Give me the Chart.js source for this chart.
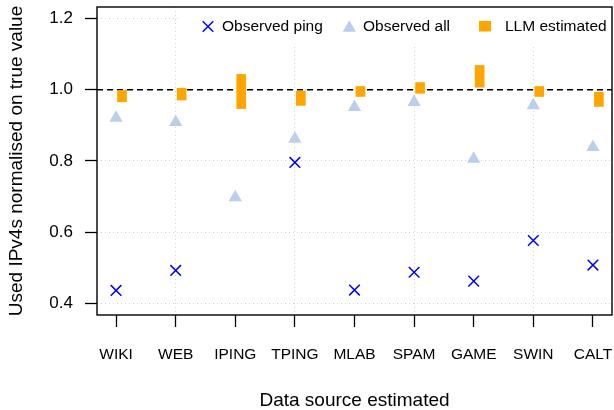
<!DOCTYPE html>
<html><head><meta charset="utf-8">
<script src="https://cdn.jsdelivr.net/npm/chart.js@4/dist/chart.umd.min.js"></script>
<style>html,body{margin:0;padding:0;background:#fff}canvas{display:block}</style>
</head><body>
<canvas id="c" width="614" height="410"></canvas>
<script>
// ---- data ----
const categories   = ['WIKI','WEB','IPING','TPING','MLAB','SPAM','GAME','SWIN','CALT'];
const observedPing = [0.437, 0.493, null, 0.796, 0.438, 0.488, 0.463, 0.577, 0.508];
const observedAll  = [0.921, 0.909, 0.698, 0.862, 0.951, 0.965, 0.806, 0.956, 0.839];
const llmLow       = [0.966, 0.971, 0.947, 0.956, 0.981, 0.990, 1.007, 0.981, 0.953];
const llmHigh      = [0.998, 1.004, 1.043, 0.996, 1.009, 1.020, 1.068, 1.009, 0.993];
const yTicks       = [0.4, 0.6, 0.8, 1.0, 1.2];
const referenceValue = 1.0;
const seriesLabels = ['Observed ping', 'Observed all', 'LLM estimated'];
const xTitle = 'Data source estimated';
const yTitle = 'Used IPv4s normalised on true value';

// ---- axis limits / styling ----
const X_MIN = -0.32, X_MAX = 8.32, Y_MIN = 0.368, Y_MAX = 1.232;
const LLM_SHIFT = 0.1;
const FONT = "'Liberation Sans', Arial, Helvetica, sans-serif";
const PING_COLOR = '#0000FF', ALL_COLOR = '#B9CFEC', LLM_COLOR = '#FFA500';

Chart.defaults.font.family = FONT;
Chart.defaults.color = '#000';

const frameAndLegend = {
  id: 'frameAndLegend',
  afterDraw(chart) {
    const {ctx, chartArea: a} = chart;
    ctx.save();
    // legend background (covers grid lines)
    const lx = 178, lb = 45;
    ctx.fillStyle = '#fff';
    ctx.fillRect(lx, a.top, a.right - lx, lb - a.top);
    const cy = 26.5;
    // item 1: cross
    ctx.strokeStyle = PING_COLOR; ctx.lineWidth = 1.5;
    const mx = 208, h = 5.3;
    ctx.beginPath();
    ctx.moveTo(mx - h, cy - h); ctx.lineTo(mx + h, cy + h);
    ctx.moveTo(mx - h, cy + h); ctx.lineTo(mx + h, cy - h);
    ctx.stroke();
    // item 2: triangle
    const tx = 349.3, r = 7.7, tcy = cy + 1.5;
    ctx.fillStyle = ALL_COLOR;
    ctx.beginPath();
    ctx.moveTo(tx, tcy - r);
    ctx.lineTo(tx + r * Math.sqrt(3) / 2, tcy + r / 2);
    ctx.lineTo(tx - r * Math.sqrt(3) / 2, tcy + r / 2);
    ctx.closePath(); ctx.fill();
    // item 3: square
    ctx.fillStyle = LLM_COLOR;
    ctx.fillRect(479, 21, 12, 10.5);
    // texts
    ctx.fillStyle = '#000';
    ctx.font = '15.5px ' + FONT;
    ctx.textBaseline = 'middle';
    ctx.textAlign = 'left';
    ctx.fillText(seriesLabels[0], 222, cy);
    ctx.fillText(seriesLabels[1], 363, cy);
    ctx.fillText(seriesLabels[2], 505, cy);
    // frame
    ctx.strokeStyle = '#000'; ctx.lineWidth = 1.4;
    ctx.strokeRect(a.left, a.top, a.right - a.left, a.bottom - a.top);
    ctx.restore();
  }
};

const pingData = categories.map((c, i) => ({x: i, y: observedPing[i]})).filter(p => p.y !== null);
const allData  = categories.map((c, i) => ({x: i, y: observedAll[i]}));
const llmData  = categories.map((c, i) => ({x: i + LLM_SHIFT, y: [llmLow[i], llmHigh[i]]}));

new Chart(document.getElementById('c'), {
  type: 'scatter',
  data: {
    datasets: [
      {
        type: 'scatter', label: seriesLabels[0], data: pingData, order: 1,
        pointStyle: 'crossRot', pointRadius: 7.5, pointHoverRadius: 7.5,
        borderColor: PING_COLOR, backgroundColor: PING_COLOR, borderWidth: 1.5
      },
      {
        type: 'scatter', label: seriesLabels[1], data: allData, order: 2,
        pointStyle: 'triangle', pointRadius: 7.7, pointHoverRadius: 7.7,
        backgroundColor: ALL_COLOR, borderColor: ALL_COLOR, borderWidth: 0
      },
      {
        type: 'bar', label: seriesLabels[2], data: llmData, order: 3,
        backgroundColor: LLM_COLOR, borderWidth: 0, barThickness: 9
      },
      {
        type: 'line', label: 'reference', order: 4,
        data: [{x: X_MIN, y: referenceValue}, {x: X_MAX, y: referenceValue}],
        borderColor: '#000', borderWidth: 1.5, borderDash: [6, 4],
        pointRadius: 0, fill: false
      }
    ]
  },
  options: {
    responsive: false,
    animation: false,
    devicePixelRatio: 1,
    layout: {autoPadding: false, padding: {top: 7, right: 2, left: 0, bottom: 0}},
    plugins: {legend: {display: false}, tooltip: {enabled: false}},
    scales: {
      x: {
        type: 'linear', min: X_MIN, max: X_MAX, offset: false,
        grid: {
          offset: false, drawOnChartArea: true, lineWidth: 1,
          color: ctx => (ctx.tick && ctx.tick.value % 2 === 1) ? '#D3D3D3' : 'rgba(0,0,0,0)',
          tickLength: 12, tickColor: '#000', tickWidth: 1.3, tickBorderDash: []
        },
        border: {display: false, dash: [1, 3]},
        afterBuildTicks: s => { s.ticks = categories.map((c, i) => ({value: i})); },
        ticks: {
          callback: v => categories[v], autoSkip: false, maxRotation: 0, minRotation: 0,
          padding: 18, font: {size: 15.5}, color: '#000'
        },
        title: {display: true, text: xTitle, font: {size: 19, lineHeight: 1}, padding: {top: 0, bottom: 0}, color: '#000'},
        afterFit: s => { s.height = 95; s.paddingLeft = 0; s.paddingRight = 0; s.paddingTop = 0; s.paddingBottom = 0; }
      },
      y: {
        type: 'linear', min: Y_MIN, max: Y_MAX,
        grid: {
          lineWidth: 1, color: '#D3D3D3',
          tickLength: 12, tickColor: '#000', tickWidth: 1.3, tickBorderDash: []
        },
        border: {display: false, dash: [1, 3]},
        afterBuildTicks: s => { s.ticks = yTicks.map(v => ({value: v})); },
        ticks: {callback: v => Number(v).toFixed(1), padding: 12, font: {size: 17}, color: '#000'},
        title: {display: true, text: yTitle, font: {size: 19, lineHeight: 1}, padding: {top: 7.5, bottom: 0}, color: '#000'},
        afterFit: s => { s.width = 97; s.paddingLeft = 0; s.paddingRight = 0; s.paddingTop = 0; s.paddingBottom = 0; }
      }
    }
  },
  plugins: [frameAndLegend]
});
</script>
</body></html>
